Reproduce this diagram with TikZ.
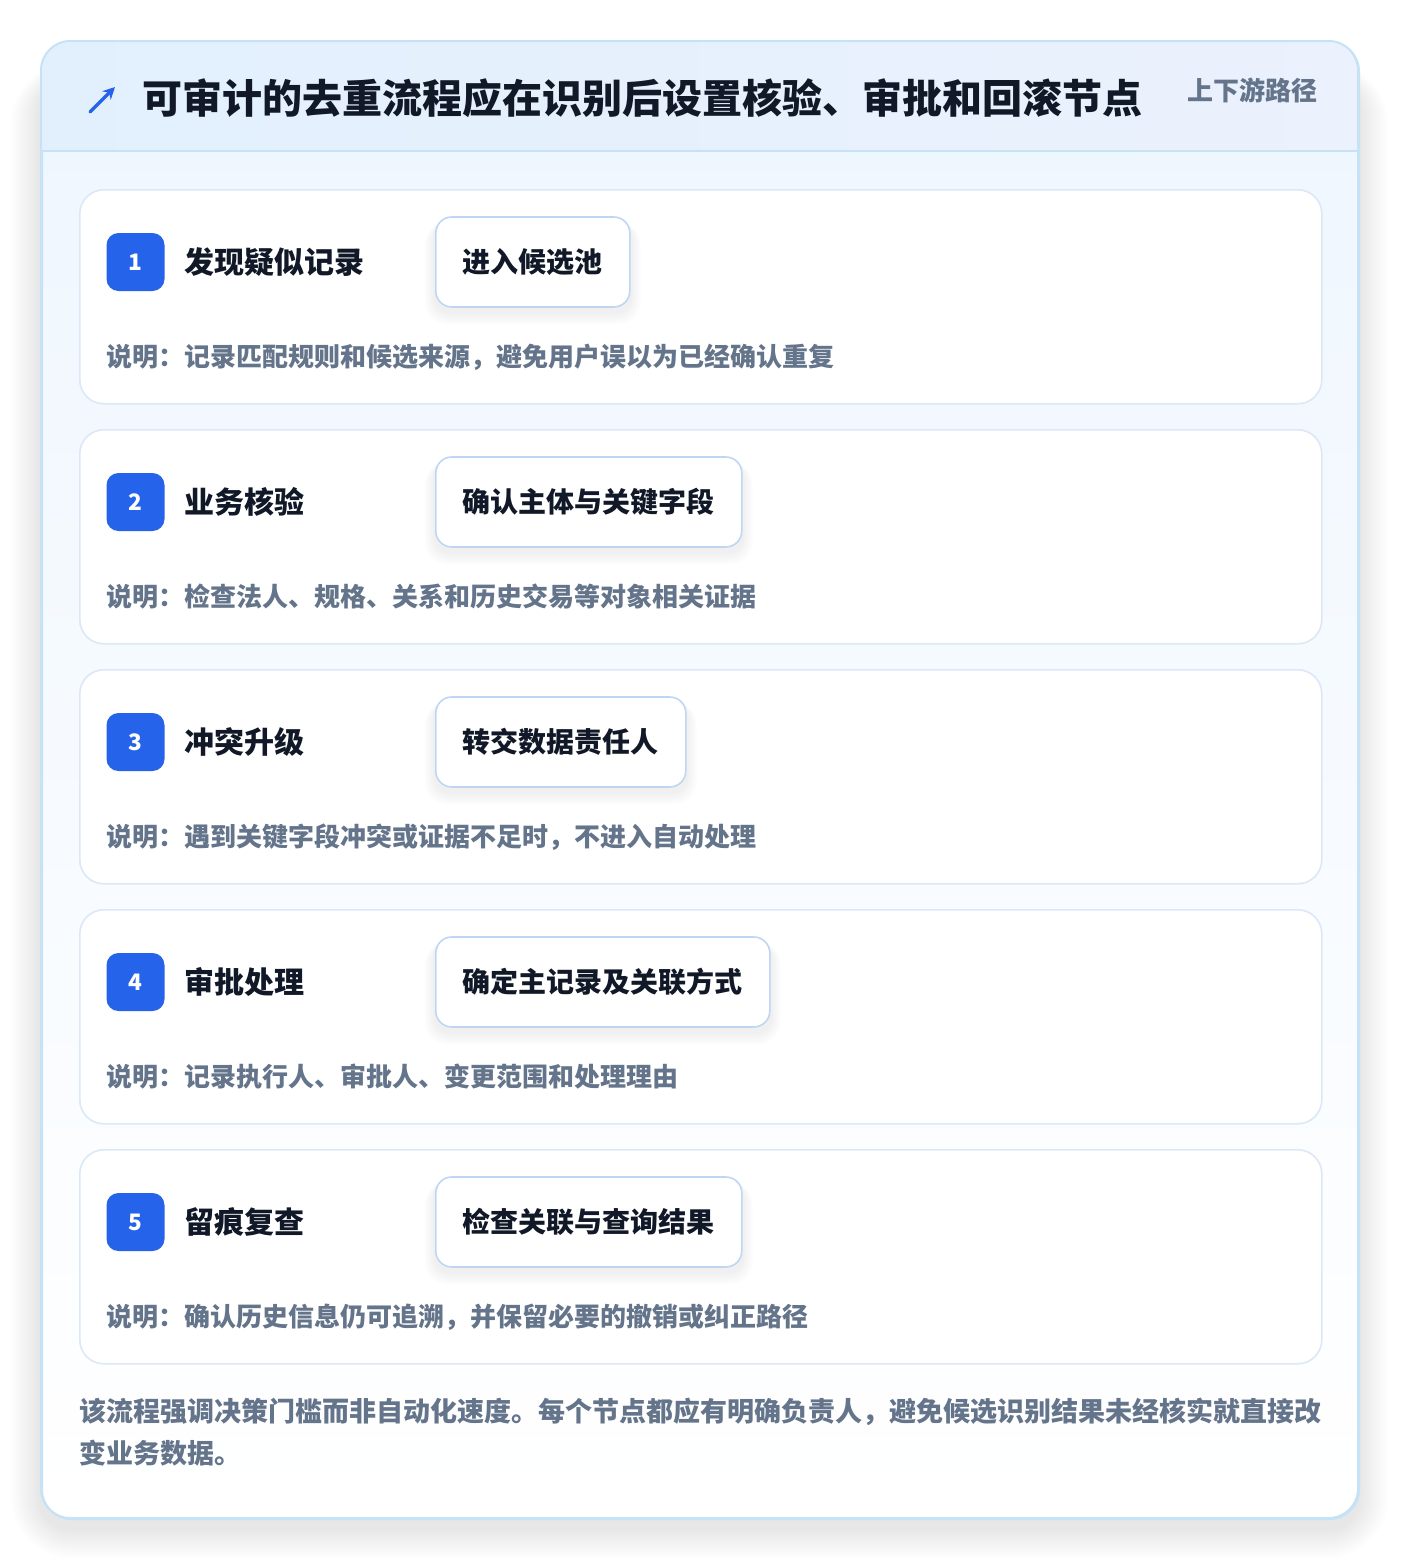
\documentclass[tikz,border=0pt]{standalone}
\usepackage{fontspec}
\setmainfont{Noto Sans CJK SC}
\usetikzlibrary{arrows.meta,calc}
\definecolor{panelline}{HTML}{C6E2F6}
\definecolor{headA}{HTML}{E2F0FD}
\definecolor{headB}{HTML}{EBF1FD}
\definecolor{cardline}{HTML}{DCE8F6}
\definecolor{pillline}{HTML}{BFD6F2}
\definecolor{badgeblue}{HTML}{2563EB}
\definecolor{ink}{HTML}{111827}
\definecolor{muted}{HTML}{64748B}
\definecolor{paneltop}{HTML}{EEF6FE}
\pgfdeclarelayer{cards}
\pgfdeclarelayer{shade}
\pgfsetlayers{cards,shade,main}
\tikzset{
  panel/.style={
      draw=panelline,
      line width=1.5pt,
      rounded corners=22pt,
      top color=paneltop,
      bottom color=white,
      anchor=north west,
      minimum width=987.75pt,
      minimum height=1107.75pt,
  },
  card/.style={
      draw=cardline,
      line width=1.2pt,
      fill=white,
      rounded corners=18pt,
      anchor=north west,
      minimum width=931.5pt,
      minimum height=160.5pt,
  },
  badge/.style={
      fill=badgeblue,
      rounded corners=9pt,
      minimum size=43.5pt,
      inner sep=0pt,
      text=white,
      font=\fontsize{17}{17}\selectfont\bfseries,
  },
  steptitle/.style={
      anchor=west,
      inner sep=0pt,
      text=ink,
      font=\fontsize{22.5}{22.5}\selectfont\bfseries,
  },
  pill/.style={
      draw=pillline,
      line width=1.2pt,
      fill=white,
      rounded corners=12pt,
      anchor=west,
      minimum height=67.5pt,
      inner xsep=20.25pt,
      text=ink,
      font=\fontsize{21}{21}\selectfont\bfseries,
  },
  note/.style={
      anchor=west,
      inner sep=0pt,
      text=muted,
      font=\fontsize{19.5}{19.5}\selectfont\bfseries,
  },
  haze/.style={fill=black,opacity=#1},
}

\begin{document}
\begin{tikzpicture}[x=0.75pt,y=-0.75pt]
  \useasboundingbox (0,0) rectangle (1400,1560);
  % outer panel with soft shadow
  \begin{pgfonlayer}{cards}
    \fill[white] (0,0) rectangle (1400,1560);
    \foreach \k in {1,...,12}
      \fill[haze=0.006,rounded corners=22pt+\k*2pt] (41-\k*2.5,41+40-\k*1.5) rectangle (1358+\k*2.5,1518+10+\k*2.5);
    \node[panel] (panel) at (41,41) {};
    \begin{scope}
      \clip[rounded corners=22pt] (41,41) rectangle (1358,1518);
      \fill[left color=headA,right color=headB] (41,41) rectangle (1358,151);
    \end{scope}
    \draw[panelline,line width=1.2pt] (41,151) -- (1358,151);
    \draw[panelline,line width=1.5pt,rounded corners=22pt] (41,41) rectangle (1358,1518);
  \end{pgfonlayer}
  % header
  \coordinate (arrowA) at (90,112);
  \coordinate (arrowB) at (115,87);
  \draw[badgeblue,line width=2.6pt,line cap=round,-{Stealth[length=9pt,width=9pt]}] (arrowA) -- (arrowB);
  \node[anchor=west,inner sep=0pt,text=ink,font=\fontsize{30}{30}\selectfont\bfseries] (title) at (142,98)
    {可审计的去重流程应在识别后设置核验、审批和回滚节点};
  \node[anchor=east,inner sep=0pt,text=muted,font=\fontsize{19.5}{19.5}\selectfont\bfseries] (route) at (1318,90)
    {上下游路径};
  % steps
  \foreach \i/\name/\act/\desc in {
      1/发现疑似记录/进入候选池/记录匹配规则和候选来源，避免用户误以为已经确认重复,
      2/业务核验/确认主体与关键字段/检查法人、规格、关系和历史交易等对象相关证据,
      3/冲突升级/转交数据责任人/遇到关键字段冲突或证据不足时，不进入自动处理,
      4/审批处理/确定主记录及关联方式/记录执行人、审批人、变更范围和处理理由,
      5/留痕复查/检查关联与查询结果/确认历史信息仍可追溯，并保留必要的撤销或纠正路径}{
    \pgfmathsetmacro{\top}{189+240*(\i-1)}
    \begin{pgfonlayer}{cards}
      \node[card] (card\i) at (79,\top) {};
    \end{pgfonlayer}
    \node[badge] (badge\i) at (135.5,\top+73) {\i};
    \node[steptitle] (step\i) at (184,\top+73) {\name};
    \node[pill] (pill\i) at (435,\top+73) {\act};
    \begin{pgfonlayer}{shade}
      \foreach \k in {1,...,5}
        \fill[haze=0.01,rounded corners=12pt+\k*1pt] ($(pill\i.north west)+(-\k*2,6)$) rectangle ($(pill\i.south east)+(\k*2,4+\k*2.5)$);
    \end{pgfonlayer}
    \node[note] (note\i) at (106,\top+168) {说明：\desc};
  }
  % footer
  \node[anchor=north west,inner sep=0pt,align=left,text=muted,
        font=\fontsize{20.25}{31.5}\selectfont\bfseries] (footer) at (79,1398)
    {该流程强调决策门槛而非自动化速度。每个节点都应有明确负责人，避免候选识别结果未经核实就直接改\\变业务数据。};
\end{tikzpicture}
\end{document}
